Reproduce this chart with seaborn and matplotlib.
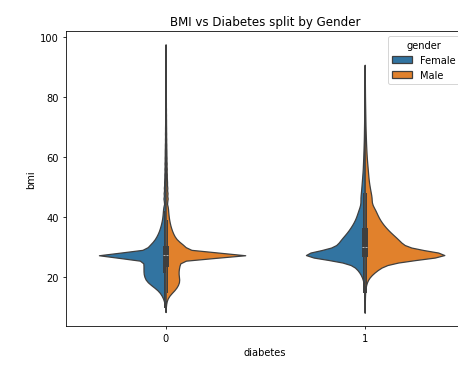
import numpy as np
import pandas as pd
import seaborn as sns
import matplotlib.pyplot as plt

# bmi values
bmi_grid = list(range(10, 45)) + list(range(46, 97, 2))

# estimated number of people at each bmi value (diabetes = 0)
counts_d0_female = [4, 8, 12, 20, 32, 47, 71, 103, 134, 158, 166, 174, 174, 174, 174, 174, 174, 174,
                    166, 158, 142, 119, 95, 79, 67, 55, 47, 40, 34, 29, 25, 23, 21, 19, 17,
                    32, 28, 25, 22, 19, 17, 16, 14, 13, 11, 9, 9, 8, 7, 6, 6, 5, 5, 4, 3, 3, 2, 2, 2, 2, 1]
counts_d0_male = [3, 5, 10, 20, 40, 70, 100, 120, 135, 140, 135, 130, 130, 135, 140, 150, 160, 175,
                  200, 220, 210, 170, 130, 100, 85, 70, 60, 50, 43, 37, 32, 29, 26, 24, 22,
                  40, 36, 32, 28, 24, 22, 20, 18, 16, 14, 12, 11, 10, 9, 8, 7, 6, 6, 5, 4, 4, 3, 2, 2, 2, 1]

# estimated number of people at each bmi value (diabetes = 1)
counts_d1_female = [0, 1, 1, 2, 2, 3, 4, 6, 10, 15, 25, 40, 60, 90, 120, 150, 180, 220,
                    260, 290, 300, 290, 270, 240, 210, 180, 160, 140, 120, 100, 90, 80, 70, 60, 55,
                    100, 80, 70, 60, 50, 40, 36, 30, 26, 22, 18, 16, 14, 12, 10, 8, 6, 6, 4, 3, 2, 1, 0, 0, 0, 0]
counts_d1_male = [0, 1, 2, 2, 3, 4, 6, 10, 15, 25, 40, 70, 110, 150, 190, 230, 270, 310,
                  350, 380, 390, 380, 350, 320, 280, 250, 220, 195, 170, 150, 135, 120, 110, 100, 90,
                  150, 120, 100, 80, 70, 60, 50, 40, 34, 28, 24, 20, 16, 14, 12, 10, 8, 6, 5, 4, 3, 2, 0, 0, 0, 0]

# records carrying the imputed bmi of 27.32
imputed_bmi = 27.32
imputed_d0 = {"Female": 711, "Male": 1240}
imputed_d1 = {"Female": 1370, "Male": 1610}

genders = ["Female", "Male"]
diabetes_levels = [0, 1]


def make_frame(diab, counts, imputed):
    frames = []
    for gender in genders:
        vals = np.concatenate([np.repeat(bmi_grid, counts[gender]),
                               np.full(imputed[gender], imputed_bmi)])
        frames.append(pd.DataFrame({"diabetes": diab, "gender": gender, "bmi": vals}))
    return pd.concat(frames, ignore_index=True)


df0 = make_frame(0, {"Female": counts_d0_female, "Male": counts_d0_male}, imputed_d0)
df1 = make_frame(1, {"Female": counts_d1_female, "Male": counts_d1_male}, imputed_d1)

fig = plt.figure(figsize=(6.4, 5.11), dpi=71.6)
ax = fig.add_axes([0.1441, 0.1066, 0.869, 0.806])

# fewer diabetic people -> wider kernel, so each diabetes level gets its own bandwidth
for data, bw, show_legend in [(df0, 0.8, True), (df1, 1.4, False)]:
    sns.violinplot(data=data, x="diabetes", y="bmi", hue="gender",
                   order=diabetes_levels, hue_order=genders, split=True,
                   bw_method=lambda kde, h=bw: h / kde.dataset.std(),
                   density_norm="count", common_norm=True,
                   inner_kws=dict(box_width=3, whis_width=1),
                   legend=show_legend, ax=ax)

ax.set_title("BMI vs Diabetes split by Gender")
ax.set_xlabel("diabetes")
ax.set_ylabel("bmi")
ax.legend(title="gender", loc="upper right")

fig.savefig("out.png", dpi=71.6)
